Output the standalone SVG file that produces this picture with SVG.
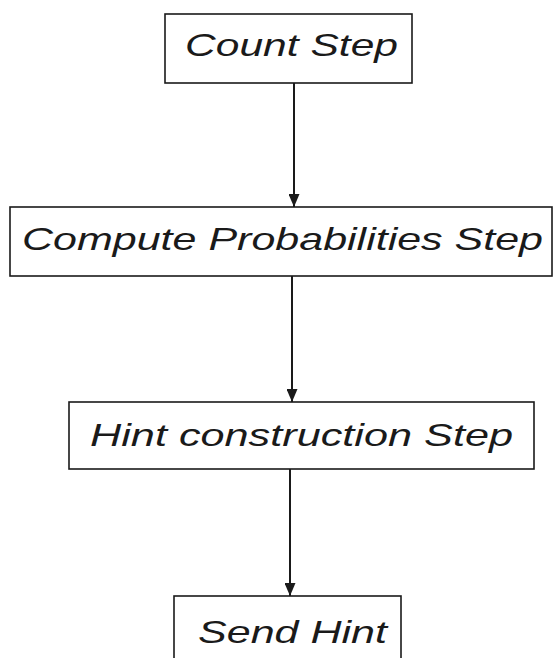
<svg xmlns="http://www.w3.org/2000/svg" width="555" height="658" viewBox="0 0 555 658">
  <style>
    .box { fill: #ffffff; stroke: #1a1a1a; stroke-width: 1.6; }
    .label { font-family: "Comic Sans MS", "Liberation Sans", "DejaVu Sans", sans-serif; font-style: italic; font-size: 32px; fill: #1a1a1a; }
    .edge { stroke: #1a1a1a; stroke-width: 2; fill: none; marker-end: url(#arrow); }
  </style>
  <defs>
    <!-- filled triangular head, pointing along the line direction -->
    <marker id="arrow" viewBox="0 0 13 11" refX="13" refY="5.5" markerWidth="13" markerHeight="11" markerUnits="userSpaceOnUse" orient="auto">
      <path d="M0,0 L13,5.5 L0,11 Z" fill="#1a1a1a"/>
    </marker>
  </defs>
  <rect width="555" height="658" fill="#ffffff"/>

  <g id="connectors">
    <line class="edge" x1="294" y1="83" x2="294" y2="207"/>
    <line class="edge" x1="292" y1="276" x2="292" y2="402"/>
    <line class="edge" x1="290" y1="469" x2="290" y2="596"/>
  </g>

  <g id="count-step">
    <rect class="box" x="165" y="14" width="247" height="69"/>
    <text class="label" x="185" y="56" textLength="213" lengthAdjust="spacingAndGlyphs">Count Step</text>
  </g>

  <g id="compute-probabilities-step">
    <rect class="box" x="10" y="207" width="542" height="69"/>
    <text class="label" x="22" y="250" textLength="521" lengthAdjust="spacingAndGlyphs">Compute Probabilities Step</text>
  </g>

  <g id="hint-construction-step">
    <rect class="box" x="69" y="402" width="465" height="67"/>
    <text class="label" x="90" y="446" textLength="423" lengthAdjust="spacingAndGlyphs">Hint construction Step</text>
  </g>

  <g id="send-hint">
    <rect class="box" x="174" y="596" width="227" height="80"/>
    <text class="label" x="198" y="643" textLength="189" lengthAdjust="spacingAndGlyphs">Send Hint</text>
  </g>
</svg>
